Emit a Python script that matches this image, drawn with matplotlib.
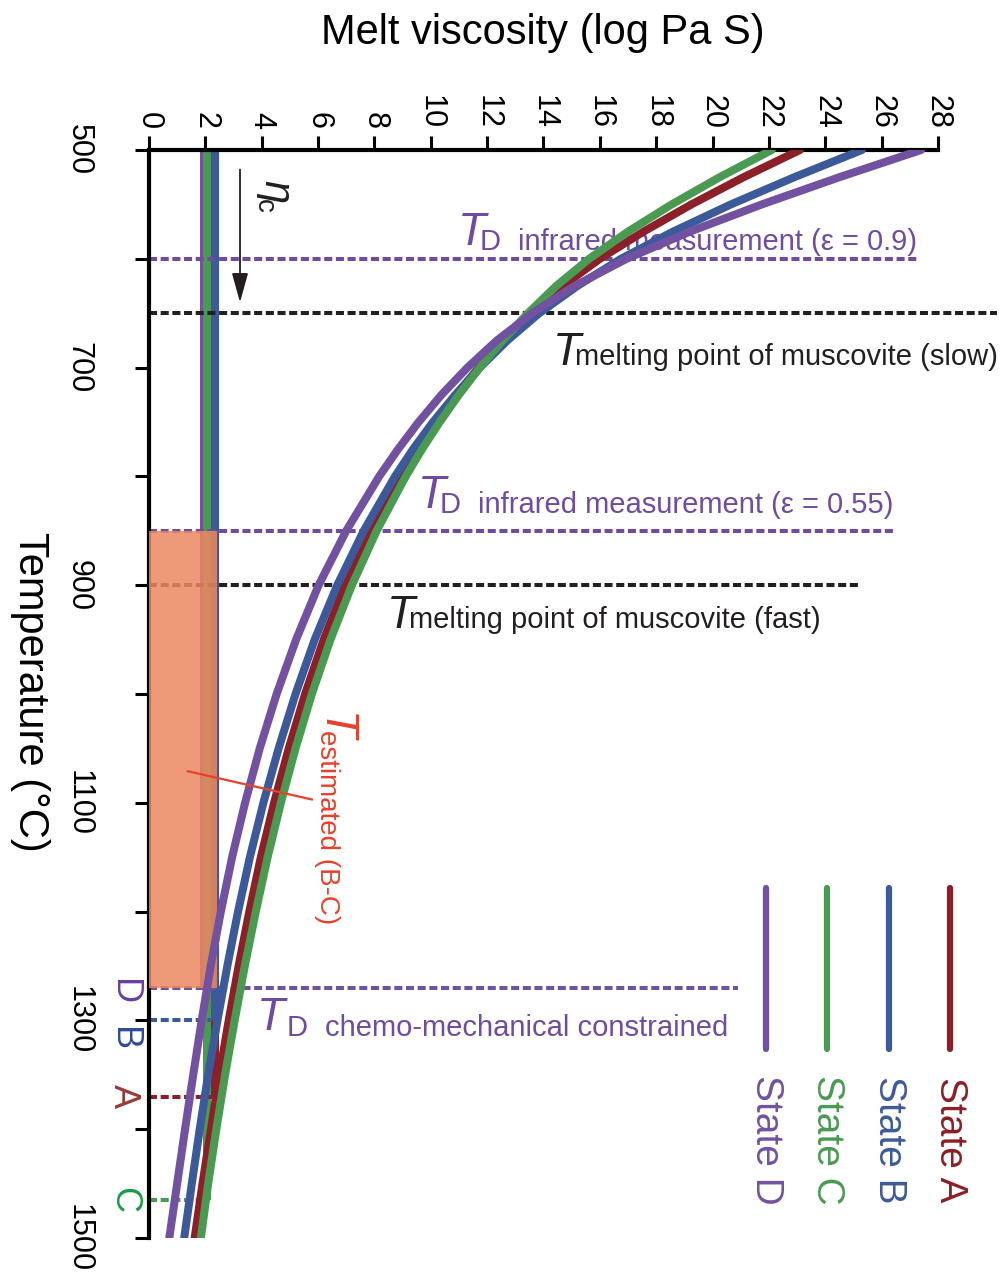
import matplotlib
matplotlib.use("Agg")
import matplotlib.pyplot as plt
from matplotlib.patches import Rectangle

plt.rcParams['font.family'] = ['Liberation Sans', 'DejaVu Sans']

# temperature grid (C) and melt viscosity (log Pa s)
temps = [500, 525, 550, 575, 600, 625, 650, 675, 700, 725, 750, 775, 800,
         850, 900, 950, 1000, 1050, 1100, 1150, 1200, 1250, 1300, 1350, 1400, 1450, 1500]
visc_a = [23.1, 21.1, 19.25, 17.55, 16.0, 14.68, 13.55, 12.57, 11.7, 10.91, 10.19, 9.53, 8.92,
          7.86, 6.96, 6.2, 5.54, 4.96, 4.44, 3.97, 3.56, 3.18, 2.83, 2.5, 2.2, 1.9, 1.62]
visc_b = [25.3, 22.9, 20.65, 18.6, 16.75, 15.2, 13.85, 12.72, 11.74, 10.87, 10.08, 9.37, 8.73,
          7.62, 6.68, 5.88, 5.2, 4.6, 4.06, 3.58, 3.16, 2.78, 2.43, 2.1, 1.8, 1.52, 1.25]
visc_c = [22.1, 20.25, 18.55, 17.0, 15.62, 14.45, 13.45, 12.55, 11.74, 11.0, 10.32, 9.69, 9.11,
          8.08, 7.2, 6.44, 5.78, 5.2, 4.68, 4.21, 3.79, 3.4, 3.04, 2.7, 2.39, 2.1, 1.84]
visc_d = [27.4, 24.5, 21.75, 19.2, 16.95, 15.1, 13.6, 12.35, 11.3, 10.38, 9.57, 8.84, 8.17,
          7.0, 6.02, 5.22, 4.53, 3.93, 3.41, 2.95, 2.55, 2.19, 1.87, 1.57, 1.28, 1.0, 0.72]

states = ['A', 'B', 'C', 'D']
colors = {'A': '#8C1F28', 'B': '#3C5A9A', 'C': '#4A9A52', 'D': '#7252A0'}
curves = {'A': visc_a, 'B': visc_b, 'C': visc_c, 'D': visc_d}

# critical viscosity per state and the temperature where it is reached
eta_c = {'A': 2.35, 'B': 2.35, 'C': 2.07, 'D': 1.95}
t_d = {'A': 1370, 'B': 1300, 'C': 1465, 'D': 1270}
td_end = {'A': 2.25, 'B': 2.25, 'C': 1.85, 'D': 20.9}
label_col = {'A': '#9A3A3A', 'B': '#2E4A9A', 'C': '#1B9A4A', 'D': '#6B3FA0'}

# reference temperatures (infrared / muscovite melting)
ref_temps = [600, 650, 850, 900]
ref_ends = [27.3, 30.1, 26.4, 25.2]
ref_cols = ['#6F4BA3', '#231f20', '#6F4BA3', '#231f20']

est_lo, est_hi, est_visc = 850, 1270, 2.4

fig = plt.figure(figsize=(10.06, 12.81), dpi=100)
ax = fig.add_axes([0.1481, 0.0336, 0.7843, 0.8493])
ax.set_xlim(0, 28)
ax.set_ylim(1500, 500)

dash = (0, (2, 0.9))

# critical viscosity verticals
for s in ['D', 'C', 'A', 'B']:
    ax.plot([eta_c[s], eta_c[s]], [500, t_d[s]], color=colors[s], lw=5.8,
            solid_capstyle='butt', zorder=2)

# reference dashed lines
for t, e, c in zip(ref_temps, ref_ends, ref_cols):
    ax.plot([0, e], [t, t], color=c, lw=2.9, linestyle=dash, clip_on=False, zorder=2.5)
for s in states:
    ax.plot([0, td_end[s]], [t_d[s], t_d[s]], color=colors[s], lw=2.9,
            linestyle=dash, zorder=2.5)

ax.add_patch(Rectangle((0, est_lo), est_visc, est_hi - est_lo, facecolor='#EC8860',
                       alpha=0.85, lw=0, zorder=3))

for s in ['A', 'B', 'C', 'D']:
    ax.plot(curves[s], temps, color=colors[s], lw=5.8, solid_capstyle='round', zorder=4)

# axes styling
ax.xaxis.tick_top()
ax.set_xticks(range(0, 29, 2))
ax.set_yticks(range(500, 1501, 100))
ax.set_yticklabels([str(t) if t % 200 == 100 else '' for t in range(500, 1501, 100)])
ax.tick_params(axis='x', direction='out', length=10, width=2.2, labelsize=22,
               labelrotation=-90, pad=5)
ax.tick_params(axis='y', direction='out', length=10, width=2.2, labelsize=22,
               labelrotation=-90, pad=30)
for lbl in ax.get_yticklabels():
    lbl.set_va('center')
for side in ['right', 'bottom']:
    ax.spines[side].set_visible(False)
for side in ['top', 'left']:
    ax.spines[side].set_linewidth(3)

fig.text(543 / 1006, 1 - 33 / 1281, 'Melt viscosity (log Pa S)', ha='center',
         va='center', fontsize=30)
fig.text(30 / 1006, 1 - 692 / 1281, 'Temperature (°C)', ha='center', va='center',
         rotation=-90, fontsize=30)

# annotations
purple = '#6F4BA3'
black = '#231f20'
def td_label(x, y, rest, color, sub='D', d_off=0.78, r_off=2.13):
    ax.text(x, y, 'T', fontsize=33, style='italic', color=color, ha='left',
            va='baseline', zorder=3.8)
    if sub:
        ax.text(x + d_off, y + 5, sub, fontsize=21, color=color, ha='left',
                va='baseline', zorder=3.8)
        ax.text(x + r_off, y + 5, rest, fontsize=21, color=color, ha='left',
                va='baseline', zorder=3.8)
    else:
        ax.text(x + 0.78, y, rest, fontsize=21, color=color, ha='left',
                va='baseline', zorder=3.8)

td_label(10.97, 587, 'infrared measurement (ε = 0.9)', purple)
td_label(14.34, 698, 'melting point of muscovite (slow)', black, sub=None)
td_label(9.55, 829, 'infrared measurement (ε = 0.55)', purple)
td_label(8.45, 939, 'melting point of muscovite (fast)', black, sub=None)
td_label(3.83, 1309, 'chemo-mechanical constrained', purple, d_off=1.06, r_off=2.4)

red = '#E8412C'
ax.text(6.55, 1030, 'T', fontsize=33, style='italic', color=red, rotation=-90,
        ha='center', va='center')
ax.text(6.32, 1122, 'estimated (B-C)', fontsize=20, color=red, rotation=-90,
        ha='center', va='center')
ax.plot([1.38, 5.78], [1071, 1097], color=red, lw=1.6, zorder=5)

ax.annotate('', xy=(3.23, 640), xytext=(3.23, 518),
            arrowprops=dict(arrowstyle='-|>,head_length=0.9,head_width=0.25',
                            color=black, lw=1.3, mutation_scale=20,
                            shrinkA=0, shrinkB=0))
ax.text(4.5, 538, 'η', fontsize=30, style='italic', rotation=-90, ha='center',
        va='center', color=black)
ax.text(4.08, 551, 'c', fontsize=20, rotation=-90, ha='center', va='center',
        color=black)

label_t = {'D': 1274, 'B': 1317, 'A': 1370, 'C': 1465}
for s in states:
    ax.text(-0.9, label_t[s], s, fontsize=26, color=label_col[s], rotation=-90,
            ha='center', va='center', clip_on=False)

# legend
legend_x = {'D': 21.9, 'C': 24.06, 'B': 26.26, 'A': 28.43}
for s in ['D', 'C', 'B', 'A']:
    ax.plot([legend_x[s], legend_x[s]], [1178, 1326], color=colors[s], lw=4.5,
            solid_capstyle='round', clip_on=False)
    ax.text(legend_x[s], 1410, 'State ' + s, fontsize=28, color=colors[s],
            rotation=-90, ha='center', va='center', clip_on=False)

fig.savefig('out.png', dpi=100)
